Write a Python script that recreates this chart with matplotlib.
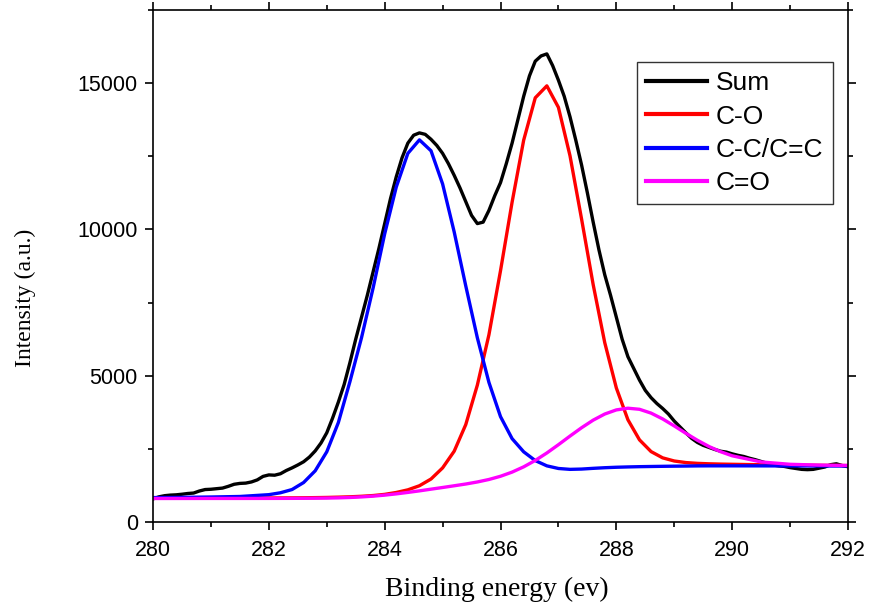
import numpy as np
import matplotlib.pyplot as plt
from matplotlib.ticker import MultipleLocator

# ============================================================================
# Data (C 1s XPS spectrum and fitted components)
# ============================================================================
energy_sum = np.linspace(280.0, 292.0, 121)   # Binding energy (eV), 0.1 eV step
intensity_sum = [
    790, 860, 900, 920, 930, 950, 975, 990, 1060, 1110,
    1120, 1140, 1160, 1220, 1290, 1320, 1330, 1370, 1440, 1560,
    1610, 1600, 1650, 1760, 1850, 1950, 2060, 2220, 2430, 2700,
    3050, 3550, 4100, 4700, 5450, 6250, 7000, 7750, 8550, 9350,
    10200, 11050, 11800, 12450, 12950, 13220, 13300, 13250, 13080, 12870,
    12600, 12250, 11850, 11420, 10950, 10480, 10200, 10250, 10650, 11150,
    11600, 12250, 12950, 13750, 14550, 15250, 15750, 15930, 16000, 15600,
    15100, 14550, 13850, 13050, 12200, 11250, 10250, 9300, 8450, 7750,
    7000, 6250, 5650, 5250, 4850, 4500, 4250, 4050, 3880, 3690,
    3450, 3250, 3050, 2860, 2720, 2620, 2550, 2480, 2420, 2390,
    2330, 2280, 2240, 2180, 2130, 2070, 2010, 1950, 1920, 1900,
    1860, 1830, 1800, 1790, 1800, 1840, 1880, 1960, 1990, 1930,
    1890,
]

energy_fit = [
    280.0, 280.5, 281.0, 281.5, 282.0, 282.2, 282.4, 282.6, 282.8, 283.0,
    283.2, 283.4, 283.6, 283.8, 284.0, 284.2, 284.4, 284.6, 284.8, 285.0,
    285.2, 285.4, 285.6, 285.8, 286.0, 286.2, 286.4, 286.6, 286.8, 287.0,
    287.2, 287.4, 287.6, 287.8, 288.0, 288.2, 288.4, 288.6, 288.8, 289.0,
    289.2, 289.4, 289.6, 289.8, 290.0, 290.5, 291.0, 291.5, 292.0,
]

c_o = [
    810, 812, 815, 818, 822, 824, 826, 829, 834, 840,
    850, 862, 880, 905, 945, 1010, 1100, 1240, 1470, 1850,
    2420, 3330, 4680, 6401, 8589, 10932, 13051, 14499, 14908, 14172,
    12518, 10352, 8115, 6130, 4582, 3495, 2808, 2407, 2193, 2086,
    2032, 2005, 1990, 1980, 1973, 1957, 1946, 1938, 1931,
]

c_c = [
    835, 843, 855, 873, 935, 1000, 1110, 1350, 1750, 2400,
    3400, 4800, 6300, 8000, 9850, 11450, 12600, 13061, 12688, 11555,
    9916, 8070, 6297, 4772, 3602, 2850, 2400, 2100, 1920, 1830,
    1800, 1810, 1835, 1856, 1872, 1883, 1892, 1898, 1904, 1909,
    1913, 1918, 1920, 1920, 1920, 1919, 1917, 1916, 1914,
]

c_double_o = [
    804, 805, 806, 806, 807, 808, 809, 811, 814, 818,
    826, 839, 858, 884, 919, 962, 1012, 1065, 1123, 1180,
    1239, 1299, 1369, 1454, 1564, 1706, 1886, 2105, 2360, 2643,
    2938, 3223, 3482, 3691, 3832, 3890, 3853, 3722, 3523, 3284,
    3033, 2794, 2581, 2404, 2264, 2054, 1973, 1945, 1932,
]

# ============================================================================
# Plot
# ============================================================================
fig = plt.figure(figsize=(8.7, 6.14), dpi=100)
ax = fig.add_axes([0.1759, 0.1498, 0.7988, 0.8339])

lw = 2.4
ax.plot(energy_sum, intensity_sum, color="black", lw=lw, label="Sum")
ax.plot(energy_fit, c_o, color="#ff0000", lw=lw, label="C-O")
ax.plot(energy_fit, c_c, color="#0000ff", lw=lw, label="C-C/C=C")
ax.plot(energy_fit, c_double_o, color="#ff00ff", lw=lw, label="C=O")

ax.set_xlim(280, 292)
ax.set_ylim(0, 17500)
ax.xaxis.set_major_locator(MultipleLocator(2))
ax.xaxis.set_minor_locator(MultipleLocator(1))
ax.yaxis.set_major_locator(MultipleLocator(5000))
ax.yaxis.set_minor_locator(MultipleLocator(2500))

for spine in ax.spines.values():
    spine.set_linewidth(1.2)

ax.tick_params(which="both", direction="out", top=True, right=True,
               width=1.2, labelsize=15.5)
ax.tick_params(which="major", length=6)
ax.tick_params(which="minor", length=3.5)
ax.tick_params(axis="x", pad=7)
ax.tick_params(axis="y", pad=5)
for lab in ax.get_xticklabels() + ax.get_yticklabels():
    lab.set_fontfamily("Liberation Sans")

ax.set_xlabel("Binding energy (ev)", fontfamily="Liberation Serif", fontsize=20)
ax.set_ylabel("Intensity (a.u.)", fontfamily="Liberation Serif", fontsize=17)
ax.xaxis.set_label_coords(0.495, -0.108)
ax.yaxis.set_label_coords(-0.168, 0.4375)

leg = ax.legend(loc="upper right", bbox_to_anchor=(0.978, 0.898),
                prop={"family": "Liberation Sans", "size": 19},
                frameon=True, fancybox=False, borderaxespad=0,
                handlelength=2.3, handletextpad=0.35, labelspacing=0.35,
                borderpad=0.35)
leg.get_frame().set_edgecolor("black")
leg.get_frame().set_linewidth(1.0)
for line in leg.get_lines():
    line.set_linewidth(3)

fig.savefig("out.png", dpi=100)
